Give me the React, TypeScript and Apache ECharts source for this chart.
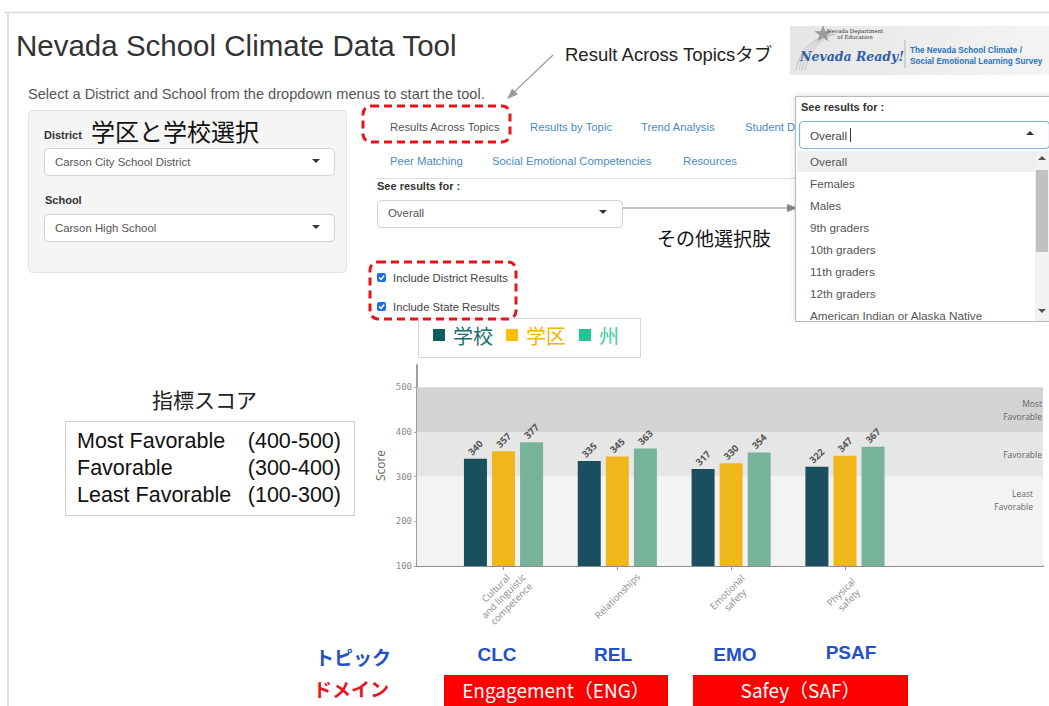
import React, { useEffect, useRef } from 'react';
import * as echarts from 'echarts';

// ---------- data ----------
const CATEGORIES = ['Cultural\nand linguistic\ncompetence', 'Relationships', 'Emotional\nsafety', 'Physical\nsafety'];
const SERIES_NAMES = ['学校', '学区', '州'];
const SCHOOL = [340, 335, 317, 322];
const DISTRICT = [357, 345, 330, 347];
const STATE = [377, 363, 354, 367];
const Y_TICKS = [100, 200, 300, 400, 500];
const BANDS = [
  { from: 400, to: 500, label: 'Most\nFavorable' },
  { from: 300, to: 400, label: 'Favorable' },
  { from: 100, to: 300, label: 'Least\nFavorable' },
];
const TOPIC_CODES = ['CLC', 'REL', 'EMO', 'PSAF'];
const DOMAINS = ['Engagement（ENG）', 'Safey（SAF）'];
const TABS_ROW1 = ['Results by Topic', 'Trend Analysis', 'Student D'];
const TABS_ROW2 = ['Peer Matching', 'Social Emotional Competencies', 'Resources'];
const DROPDOWN_OPTIONS = ['Overall', 'Females', 'Males', '9th graders', '10th graders', '11th graders', '12th graders', 'American Indian or Alaska Native'];
const SCORE_RANGES = [
  ['Most Favorable', '(400-500)'],
  ['Favorable', '(300-400)'],
  ['Least Favorable', '(100-300)'],
];

const VALUES = [SCHOOL, DISTRICT, STATE];
const BAR_COLORS = ['#1a4f5f', '#efb71b', '#76b39a'];
const LEGEND_ICON = ['#0d5f5f', '#ffbf00', '#22c492'];
const LEGEND_TEXT = ['#17706e', '#f5b400', '#3ccf9e'];
const BAND_COLORS = ['#d3d3d3', '#e6e6e6', '#f3f3f3'];

const SANS = '"Liberation Sans", Arial, sans-serif';
const CJK = '"Liberation Sans", "Noto Sans CJK JP", sans-serif';

function txt(x: number, y: number, text: string, size: number, fill: string, o: any = {}) {
  return {
    type: 'text',
    x,
    y,
    silent: true,
    z: o.z ?? 10,
    style: {
      text,
      fill,
      font: `${o.style || 'normal'} ${o.weight || 'normal'} ${size}px ${o.family || SANS}`,
      textAlign: o.align || 'left',
      verticalAlign: o.va || 'middle',
    },
  };
}
function rect(x: number, y: number, w: number, h: number, style: any, r = 0, z = 5) {
  return { type: 'rect', silent: true, z, shape: { x, y, width: w, height: h, r }, style };
}
function line(x1: number, y1: number, x2: number, y2: number, stroke: string, lineWidth = 1, z = 5) {
  return { type: 'line', silent: true, z, shape: { x1, y1, x2, y2 }, style: { stroke, lineWidth } };
}
function poly(points: number[][], fill: string, z = 6) {
  return { type: 'polygon', silent: true, z, shape: { points }, style: { fill } };
}
function caretDown(cx: number, cy: number, z = 6) {
  return poly([[cx - 4, cy - 2], [cx + 4, cy - 2], [cx, cy + 2]], '#333', z);
}
function caretUp(cx: number, cy: number, fill = '#333', z = 30) {
  return poly([[cx - 4, cy + 2], [cx + 4, cy + 2], [cx, cy - 2]], fill, z);
}
function checkbox(x: number, y: number) {
  return [
    rect(x, y, 9, 9, { fill: '#1c6fe0' }, 2, 6),
    { type: 'polyline', silent: true, z: 7, shape: { points: [[x + 2, y + 4.5], [x + 4, y + 6.5], [x + 7.2, y + 2.5]] }, style: { stroke: '#fff', lineWidth: 1.5, fill: null } },
  ];
}
function starPoints(cx: number, cy: number, R: number, r: number) {
  const pts: number[][] = [];
  for (let i = 0; i < 10; i++) {
    const a = -Math.PI / 2 + (i * Math.PI) / 5;
    const rad = i % 2 === 0 ? R : r;
    pts.push([cx + rad * Math.cos(a), cy + rad * Math.sin(a)]);
  }
  return pts;
}

function buildGraphics() {
  const g: any[] = [];
  // page frame
  g.push(line(4, 12.5, 1049, 12.5, '#d9d9d9', 1.5, 1));
  g.push(line(8, 12, 8, 706, '#dcdcdc', 2, 1));

  // title + intro
  g.push(txt(16, 45, 'Nevada School Climate Data Tool', 29.5, '#333'));
  g.push(txt(28, 94, 'Select a District and School from the dropdown menus to start the tool.', 14.6, '#555'));

  // left well
  g.push(rect(28.5, 110.5, 318, 162, { fill: '#f5f5f5', stroke: '#e3e3e3', lineWidth: 1 }, 4, 2));
  g.push(txt(44, 135, 'District', 11, '#333', { weight: 'bold' }));
  g.push(txt(91, 130, '学区と学校選択', 24, '#111', { family: '"Noto Sans CJK JP", sans-serif' }));
  g.push(rect(44.5, 148.5, 290, 27, { fill: '#fff', stroke: '#d2d2d2', lineWidth: 1 }, 4, 3));
  g.push(txt(55, 162, 'Carson City School District', 11.4, '#555'));
  g.push(caretDown(316, 161));
  g.push(txt(45, 200, 'School', 11, '#333', { weight: 'bold' }));
  g.push(rect(44.5, 214.5, 290, 27, { fill: '#fff', stroke: '#d2d2d2', lineWidth: 1 }, 4, 3));
  g.push(txt(55, 228, 'Carson High School', 11.4, '#555'));
  g.push(caretDown(316, 227));

  // tabs
  g.push(txt(390, 127, 'Results Across Topics', 11.3, '#555'));
  const tab1X = [530, 641, 745];
  TABS_ROW1.forEach((t, i) => g.push(txt(tab1X[i], 127, t, 11.3, '#4a8cc6')));
  const tab2X = [390, 492, 683];
  TABS_ROW2.forEach((t, i) => g.push(txt(tab2X[i], 161, t, 11.3, '#4a8cc6')));
  g.push(line(376, 178.5, 795, 178.5, '#dedede', 1, 2));
  g.push({
    type: 'rect', silent: true, z: 12,
    shape: { x: 363, y: 106, width: 147, height: 36, r: 8 },
    style: { fill: null, stroke: '#e8141b', lineWidth: 3, lineDash: [8, 5] },
  });

  // see results for
  g.push(txt(377, 186, 'See results for :', 11, '#333', { weight: 'bold' }));
  g.push(rect(377.5, 200.5, 245, 27, { fill: '#fff', stroke: '#d2d2d2', lineWidth: 1 }, 4, 3));
  g.push(txt(388, 213, 'Overall', 11.4, '#555'));
  g.push(caretDown(603, 212));
  // arrow to dropdown
  g.push(line(623, 208, 790, 208, '#8a8a8a', 1.2, 4));
  g.push(poly([[798, 208], [787, 204], [787, 212]], '#8a8a8a', 4));
  g.push(txt(657, 237, 'その他選択肢', 19, '#111', { family: '"Noto Sans CJK JP", sans-serif' }));

  // checkboxes
  g.push(...checkbox(377, 273));
  g.push(txt(393, 278, 'Include District Results', 11.3, '#444'));
  g.push(...checkbox(377, 302));
  g.push(txt(393, 307, 'Include State Results', 11.3, '#444'));
  g.push({
    type: 'rect', silent: true, z: 12,
    shape: { x: 370, y: 262, width: 146, height: 57, r: 8 },
    style: { fill: null, stroke: '#e8141b', lineWidth: 3, lineDash: [8, 5] },
  });

  // annotation: Result Across Topics tab
  g.push(txt(565, 54, 'Result Across Topicsタブ', 18.5, '#222', { family: CJK }));
  g.push(line(553, 55, 512, 94, '#9a9a9a', 1.2, 4));
  g.push(poly([[507, 99], [518, 94.5], [512, 88.5]], '#9a9a9a', 4));

  // logo
  g.push(rect(790, 26, 259, 49, {
    fill: new echarts.graphic.LinearGradient(0, 0, 1, 0, [
      { offset: 0, color: '#e6e6e6' },
      { offset: 1, color: '#f4f4f4' },
    ]),
  }, 0, 2));
  for (let k = 0; k < 4; k++) {
    g.push({
      type: 'bezierCurve', silent: true, z: 3,
      shape: { x1: 796 + k * 3, y1: 70, x2: 830 + k * 2, y2: 34, cpx1: 800 + k * 3, cpy1: 50, cpx2: 812 + k * 3, cpy2: 38 },
      style: { stroke: '#c4c4c4', lineWidth: 1, fill: null },
    });
  }
  g.push(poly(starPoints(823, 34, 9, 3.8), '#9c9c9c', 4));
  g.push(txt(855, 31, 'Nevada Department', 5.5, '#333', { family: '"DejaVu Serif", serif', align: 'center' }));
  g.push(txt(855, 37, 'of Education', 5.5, '#333', { family: '"DejaVu Serif", serif', align: 'center' }));
  g.push(txt(800, 56, 'Nevada Ready!', 12.5, '#2d5ea8', { style: 'italic', weight: 'bold', family: '"DejaVu Serif", serif' }));
  g.push(line(905, 40, 905, 68, '#b5b5b5', 1, 3));
  g.push(txt(910, 50, 'The Nevada School Climate /', 8.2, '#2a72b8', { weight: 'bold' }));
  g.push(txt(910, 61, 'Social Emotional Learning Survey', 8.2, '#2a72b8', { weight: 'bold' }));

  // dropdown overlay
  g.push({
    type: 'rect', silent: true, z: 20,
    shape: { x: 795.5, y: 96.5, width: 260, height: 225 },
    style: { fill: '#fff', stroke: '#b9b9b9', lineWidth: 1, shadowBlur: 6, shadowColor: 'rgba(0,0,0,0.15)' },
  });
  g.push(txt(801, 107, 'See results for :', 11, '#333', { weight: 'bold', z: 21 }));
  g.push(rect(799.5, 121.5, 250, 27, { fill: '#fff', stroke: '#7db3e6', lineWidth: 1.2 }, 4, 21));
  g.push(txt(810, 135, 'Overall', 11.7, '#444', { z: 22 }));
  g.push(line(850.5, 128, 850.5, 142, '#333', 1, 22));
  g.push(caretUp(1030, 133, '#333', 22));
  g.push(rect(797, 151, 238, 21, { fill: '#efefef' }, 0, 21));
  DROPDOWN_OPTIONS.forEach((t, i) => g.push(txt(810, 161 + i * 22, t, 11.7, '#555', { z: 22 })));
  g.push(rect(1035, 151, 14, 170, { fill: '#f1f1f1' }, 0, 21));
  g.push(rect(1036, 170, 12, 82, { fill: '#c1c1c1' }, 0, 22));
  g.push(caretUp(1042, 158, '#555', 23));
  g.push(poly([[1038, 309], [1046, 309], [1042, 313]], '#555', 23));
  g.push(rect(790, 322, 259, 12, { fill: '#fff' }, 0, 24));
  g.push(line(795.5, 321.5, 1049, 321.5, '#b9b9b9', 1, 25));

  // legend box
  g.push(rect(418.5, 318.5, 222, 39, { fill: '#fff', stroke: '#d8d8d8', lineWidth: 1 }, 0, 1));

  // score guide
  g.push(txt(152, 399, '指標スコア', 21, '#222', { family: '"Noto Sans CJK JP", sans-serif' }));
  g.push(rect(65.5, 421.5, 289, 94, { fill: '#fff', stroke: '#cfcfcf', lineWidth: 1 }, 0, 2));
  SCORE_RANGES.forEach(([name, range], i) => {
    g.push(txt(77, 441 + i * 27, name, 21.5, '#111'));
    g.push(txt(341, 441 + i * 27, range, 21.5, '#111', { align: 'right' }));
  });

  // bottom labels
  g.push(txt(353, 656, 'トピック', 19, '#2251c9', { weight: 'bold', align: 'center', family: '"Noto Sans CJK JP", sans-serif' }));
  const codeX = [497, 613, 735, 851];
  TOPIC_CODES.forEach((c, i) => g.push(txt(codeX[i], 654 - (i === 3 ? 2 : 0), c, 19, '#2251c9', { weight: 'bold', align: 'center' })));
  g.push(txt(351, 688, 'ドメイン', 19, '#e8141b', { weight: 'bold', align: 'center', family: '"Noto Sans CJK JP", sans-serif' }));
  const domX = [444, 693];
  const domW = [224, 215];
  DOMAINS.forEach((d, i) => {
    g.push(rect(domX[i], 675, domW[i], 31, { fill: '#ff0000' }, 0, 3));
    g.push(txt(domX[i] + domW[i] / 2, 689, d, 19, '#fff', { align: 'center', family: '"Noto Sans CJK JP", sans-serif' }));
  });
  return g;
}

export default function App() {
  const ref = useRef<HTMLDivElement>(null);
  useEffect(() => {
    if (!ref.current) return;
    const chart = echarts.init(ref.current, null, { renderer: 'svg' });
    const tickIdx = CATEGORIES.map((_, i) => i + 1);
    chart.setOption({
      animation: false,
      backgroundColor: '#fff',
      grid: { left: 417, right: 6, top: 365, bottom: 140 },
      legend: {
        left: 433,
        top: 324,
        padding: 0,
        itemWidth: 12,
        itemHeight: 12,
        itemGap: 13,
        icon: 'rect',
        selectedMode: false,
        textStyle: { fontSize: 20, lineHeight: 22, fontFamily: '"Noto Sans CJK JP", sans-serif', padding: [0, 0, 0, 3] },
        data: SERIES_NAMES.map((n, i) => ({
          name: n,
          itemStyle: { color: LEGEND_ICON[i] },
          textStyle: { color: LEGEND_TEXT[i] },
        })),
      },
      xAxis: {
        type: 'value',
        min: 0.24,
        max: 5.74,
        axisLine: { show: true, onZero: false, lineStyle: { color: '#8c8c8c', width: 2 } },
        axisTick: { show: true, customValues: tickIdx, length: 4, lineStyle: { color: '#999' } },
        axisLabel: {
          customValues: tickIdx,
          formatter: (v: number) => CATEGORIES[Math.round(v) - 1] ?? '',
          rotate: 45,
          align: 'center',
          verticalAlign: 'middle',
          fontSize: 9.5,
          lineHeight: 11,
          color: '#8a8a8a',
          fontFamily: '"Open Sans", sans-serif',
          margin: 30,
        },
        splitLine: { show: false },
      },
      yAxis: {
        type: 'value',
        min: 100,
        max: 550,
        interval: 100,
        name: 'Score',
        nameLocation: 'middle',
        nameGap: 31,
        nameMoveOverlap: false,
        nameTextStyle: { fontSize: 12, color: '#666', fontFamily: '"Open Sans", sans-serif' },
        axisLine: { show: true, lineStyle: { color: '#a0a0a0', width: 2 } },
        axisTick: { show: true, customValues: Y_TICKS, length: 3, lineStyle: { color: '#aaa' } },
        axisLabel: { customValues: Y_TICKS, fontSize: 9, color: '#8a8a8a', margin: 5, fontFamily: '"DejaVu Sans Mono", monospace' },
        splitLine: { show: false },
      },
      series: SERIES_NAMES.map((name, i) => ({
        type: 'bar',
        name,
        data: VALUES[i].map((v, j) => [j + 1, v]),
        barWidth: 23,
        barGap: '22%',
        itemStyle: { color: BAR_COLORS[i] },
        label: {
          show: true,
          position: 'top',
          distance: 11,
          rotate: 45,
          align: 'center',
          verticalAlign: 'middle',
          fontSize: 9.5,
          fontWeight: 'bold',
          color: '#555',
          fontFamily: '"Open Sans", sans-serif',
          formatter: (p: any) => String(p.value[1]),
        },
        markArea: i === 0 ? {
          silent: true,
          label: { color: '#666', fontSize: 8.5, lineHeight: 13, fontFamily: '"Open Sans", sans-serif' },
          data: BANDS.map((b, k) => [
            {
              yAxis: b.from,
              name: b.label,
              itemStyle: { color: BAND_COLORS[k] },
              label: { position: k === 2 ? 'insideTopRight' : 'insideRight', distance: k === 2 ? 10 : 1 },
            },
            { yAxis: b.to },
          ]),
        } : undefined,
      })),
      graphic: { elements: buildGraphics() },
    });
    return () => chart.dispose();
  }, []);
  return <div ref={ref} style={{ position: 'absolute', left: 0, top: 0, width: 1049, height: 706 }} />;
}
